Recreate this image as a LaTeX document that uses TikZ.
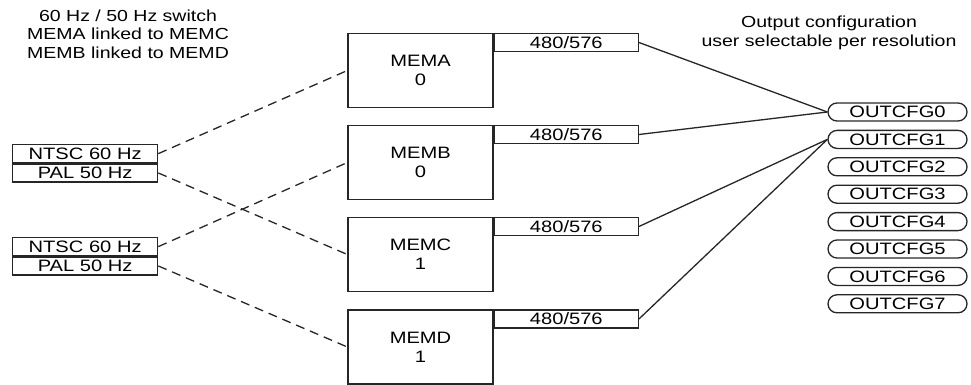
\documentclass[tikz,border=0pt]{standalone}
\usepackage{fontspec}
\setmainfont{Liberation Sans}[FakeStretch=1.22]
\usetikzlibrary{shapes.misc}
\tikzset{
	membox/.style={draw, minimum width=145, minimum height=74, inner sep=0pt, align=center},
	resbox/.style={draw, minimum width=144, minimum height=18, inner sep=0pt, anchor=north west},
	sigbox/.style={draw, minimum width=145, minimum height=18, inner sep=0pt},
	cfgpill/.style={draw, rounded rectangle, minimum width=139, minimum height=18, inner sep=0pt},
	note/.style={align=center, inner sep=0pt, font=\fontsize{16}{18.5}\selectfont},
	swlink/.style={dash pattern=on 9pt off 6pt},
	cfglink/.style={}
}

\begin{document}
\begin{tikzpicture}[x=1pt, y=-1pt, line width=1.3pt, draw=black!85,
		font=\fontsize{16.5}{19}\selectfont]
		\useasboundingbox (0,0) rectangle (971,385);
		% notes
		\node[note] (swnote) at (128,34) {60 Hz / 50 Hz switch\\MEMA linked to MEMC\\MEMB linked to MEMD};
		\node[note] (cfgnote) at (829,33) {Output configuration\\user selectable per resolution};
		% memories
		\node[membox] (mema) at (420.5,70.5) {MEMA\\0};
		\node[membox] (memb) at (420.5,162.5) {MEMB\\0};
		\node[membox] (memc) at (420.5,254.5) {MEMC\\1};
		\node[membox] (memd) at (420.5,347) {MEMD\\1};
		\node[resbox] (resa) at (mema.north east) {480/576};
		\node[resbox] (resb) at (memb.north east) {480/576};
		\node[resbox] (resc) at (memc.north east) {480/576};
		\node[resbox] (resd) at (memd.north east) {480/576};
		% switches
		\node[sigbox, anchor=north west] (ntsca) at (12,144) {NTSC 60 Hz};
		\node[sigbox, anchor=north] (pala) at (ntsca.south) {PAL 50 Hz};
		\node[sigbox, anchor=north west] (ntscb) at (12,237) {NTSC 60 Hz};
		\node[sigbox, anchor=north] (palb) at (ntscb.south) {PAL 50 Hz};
		% output configurations
		\foreach \i in {0,...,7}
			\node[cfgpill] (cfg\i) at (897.5,112+27.4*\i) {OUTCFG\i};
		\draw[swlink] (ntsca.east) -- (mema.west);
		\draw[swlink] (pala.east) -- (memc.west);
		\draw[swlink] (ntscb.east) -- (memb.west);
		\draw[swlink] (palb.east) -- (memd.west);
		\draw[cfglink] (resa.east) -- (cfg0.west);
		\draw[cfglink] (resb.east) -- (cfg0.west);
		\draw[cfglink] (resc.east) -- (cfg1.west);
		\draw[cfglink] (resd.east) -- (cfg1.west);
	\end{tikzpicture}
\end{document}
